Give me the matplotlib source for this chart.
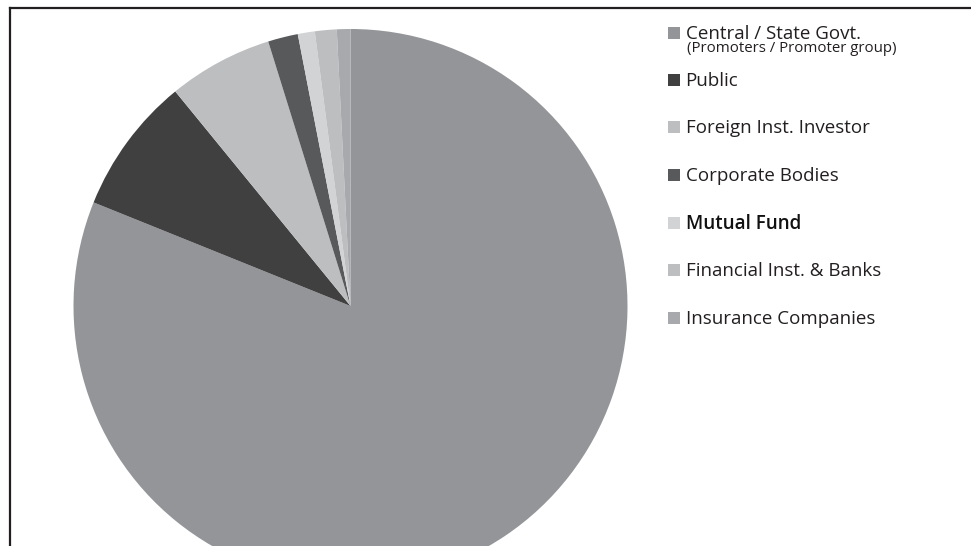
import matplotlib.pyplot as plt
from matplotlib.patches import Rectangle
from matplotlib.lines import Line2D

labels = ['Central / State Govt.', 'Public', 'Foreign Inst. Investor', 'Corporate Bodies',
          'Mutual Fund', 'Financial Inst. & Banks', 'Insurance Companies']
sublabel = '(Promoters / Promoter group)'
shares = [81.1, 8.0, 6.1, 1.75, 0.99, 1.27, 0.79]
colors = ['#939598', '#404041', '#bcbec0', '#58595b', '#d1d3d4', '#bcbec0', '#a7a9ac']

plt.rcParams['font.family'] = ['Open Sans', 'DejaVu Sans']

W, H = 971, 546
fig = plt.figure(figsize=(W / 100, H / 100), dpi=100)

# pie centre (350.5, 306) px from top-left, radius 277 px
cx, cy, r = 350.5, 306, 277
ax = fig.add_axes([(cx - r) / W, (H - cy - r) / H, 2 * r / W, 2 * r / H])
ax.pie(shares, colors=colors, startangle=90, counterclock=False,
       wedgeprops=dict(linewidth=0))
ax.set_xlim(-1, 1)
ax.set_ylim(-1, 1)
ax.axis('off')

# frame lines (top and left)
fig.add_artist(Line2D([9.5 / W, 1], [1 - 7.5 / H, 1 - 7.5 / H], color='#231f20', lw=1.6,
                      transform=fig.transFigure))
fig.add_artist(Line2D([9.5 / W, 9.5 / W], [0, 1 - 7.5 / H], color='#231f20', lw=1.6,
                      transform=fig.transFigure))

# legend drawn by hand
row_y = [33, 80, 127, 175, 223, 270, 318]
for lab, col, y in zip(labels, colors, row_y):
    fig.add_artist(Rectangle((668 / W, 1 - (y + 6) / H), 12 / W, 12 / H,
                             facecolor=col, edgecolor='none', transform=fig.transFigure))
    weight = 'semibold' if lab == 'Mutual Fund' else 'normal'
    tc = '#111111' if lab == 'Mutual Fund' else '#231f20'
    fig.text(685.5 / W, 1 - (y + 1) / H, lab, fontsize=13.5, va='center', ha='left',
             color=tc, fontweight=weight)
fig.text(686.5 / W, 1 - 49 / H, sublabel, fontsize=10.8, va='center', ha='left', color='#231f20')

fig.savefig('out.png', dpi=100)
